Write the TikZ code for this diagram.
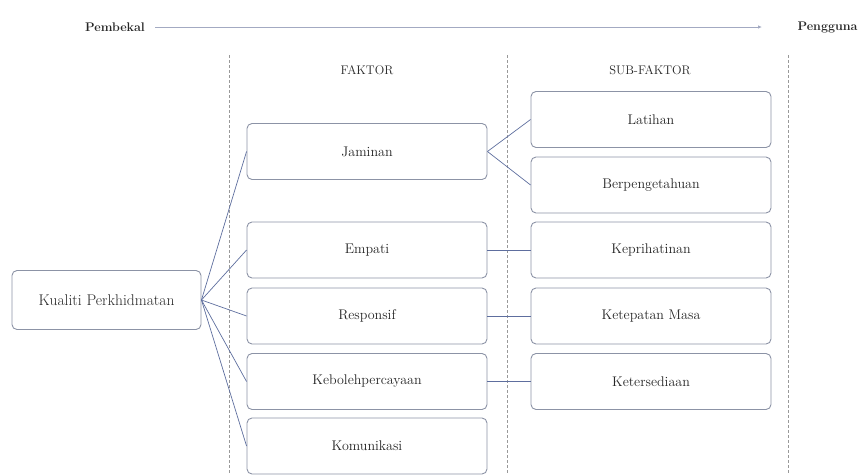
\documentclass[tikz,border=0pt]{standalone}
\usetikzlibrary{arrows.meta}
\definecolor{boxline}{HTML}{8C93A6}
\definecolor{conn}{HTML}{5E6E9E}
\definecolor{toparrow}{HTML}{A3AAC2}
\definecolor{txt}{HTML}{262626}
\begin{document}
\begin{tikzpicture}[x=1pt,y=-1pt,
  box/.style={draw=boxline,line width=0.9pt,rounded corners=5pt,fill=white,
    minimum width=240pt,minimum height=56pt,inner sep=0pt,text=txt,
    font=\fontsize{14}{16}\selectfont},
  hdr/.style={text=txt,font=\fontsize{12.5}{14}\selectfont},
  sep/.style={densely dashed,draw=gray!80,line width=0.7pt},
  link/.style={draw=conn,line width=0.7pt}]
\useasboundingbox (0,0) rectangle (861,474);
% header
\node[hdr,font=\fontsize{12.5}{14}\selectfont\bfseries] (pb) at (115,27) {Pembekal};
\node[hdr,font=\fontsize{12.5}{14}\selectfont\bfseries,anchor=west] (pg) at (794,27) {Pengguna};
\coordinate (a1) at (155,27);
\coordinate (a2) at (762,27);
\draw[draw=toparrow,line width=0.8pt,-{Latex[length=4pt,width=3.5pt]}] (a1) -- (a2);
% separators
\coordinate (s1t) at (229,55); \coordinate (s1b) at (229,474);
\coordinate (s2t) at (507,55); \coordinate (s2b) at (507,474);
\coordinate (s3t) at (788,55); \coordinate (s3b) at (788,474);
\draw[sep] (s1t) -- (s1b);
\draw[sep] (s2t) -- (s2b);
\draw[sep] (s3t) -- (s3b);
\node[hdr] (hf) at (367,70) {FAKTOR};
\node[hdr] (hs) at (650,70) {SUB-FAKTOR};
% main box
\node[box,minimum width=189pt,minimum height=59pt,font=\fontsize{15.5}{18}\selectfont] (kp) at (106.5,300) {Kualiti Perkhidmatan};
% factors
\node[box] (jam) at (367,151.5) {Jaminan};
\node[box] (emp) at (367,250) {Empati};
\node[box] (res) at (367,316) {Responsif};
\node[box] (keb) at (367,381.5) {Kebolehpercayaan};
\node[box] (kom) at (367,446) {Komunikasi};
% sub-factors
\node[box] (lat) at (651,119.5) {Latihan};
\node[box] (ber) at (651,185) {Berpengetahuan};
\node[box] (kep) at (651,250) {Keprihatinan};
\node[box] (ket) at (651,316) {Ketepatan Masa};
\node[box] (kts) at (651,381.5) {Ketersediaan};
% links
\foreach \f in {jam,emp,res,keb,kom} \draw[link] (kp.east) -- (\f.west);
\draw[link] (jam.east) -- (lat.west);
\draw[link] (jam.east) -- (ber.west);
\draw[link] (emp.east) -- (kep.west);
\draw[link] (res.east) -- (ket.west);
\draw[link] (keb.east) -- (kts.west);
\end{tikzpicture}
\end{document}
